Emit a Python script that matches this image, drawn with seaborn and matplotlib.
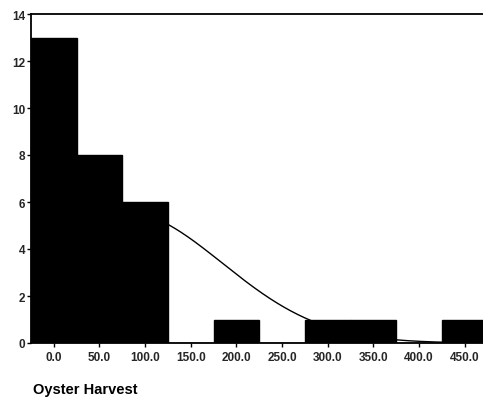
import numpy as np
import pandas as pd
import matplotlib
matplotlib.use("Agg")
import matplotlib.pyplot as plt
import seaborn as sns

# Histogram of oyster harvest: bin centres and counts
bin_centers = [0, 50, 100, 150, 200, 250, 300, 350, 400, 450]
counts = [13, 8, 6, 0, 1, 0, 1, 1, 0, 1]
x_tick_labels = ["0.0", "50.0", "100.0", "150.0", "200.0", "250.0",
                 "300.0", "350.0", "400.0", "450.0"]
y_ticks = [0, 2, 4, 6, 8, 10, 12, 14]
bin_width = 50

sns.set_theme(style="white")
plt.rcParams["font.family"] = ["Liberation Sans", "DejaVu Sans"]

df = pd.DataFrame({"harvest": bin_centers, "count": counts})
lo = bin_centers[0] - bin_width / 2
hi = bin_centers[-1] + bin_width / 2

fig = plt.figure(figsize=(4.83, 4.02), dpi=100)
ax = fig.add_axes([31 / 483, 58 / 402, 452 / 483, 329 / 402])

# Normal curve fitted to the binned data, scaled to counts
vals = np.repeat(bin_centers, counts).astype(float)
mu, sd = vals.mean(), vals.std(ddof=1)
n = len(vals)
xs = np.linspace(lo, hi, 400)
ys = n * bin_width * np.exp(-0.5 * ((xs - mu) / sd) ** 2) / (sd * np.sqrt(2 * np.pi))
sns.lineplot(x=xs, y=ys, ax=ax, color="black", linewidth=1.0, zorder=1)

sns.histplot(data=df, x="harvest", weights="count", binwidth=bin_width,
             binrange=(lo, hi), ax=ax, color="black", edgecolor="black",
             linewidth=1.0, alpha=1.0, zorder=2)

ax.set_xlim(-25, 470)
ax.set_ylim(0, 14)
ax.set_xticks(bin_centers)
ax.set_xticklabels(x_tick_labels, fontsize=8.5, fontweight="bold")
ax.set_yticks(y_ticks)
ax.set_yticklabels([str(v) for v in y_ticks], fontsize=8.5, fontweight="bold")
ax.tick_params(axis="both", direction="out", length=3, width=1, color="black",
               pad=1, bottom=True, left=True)
ax.tick_params(axis="x", pad=3)
ax.set_xlabel("")
ax.set_ylabel("")

for side in ["left", "bottom", "top"]:
    ax.spines[side].set_visible(True)
    ax.spines[side].set_color("black")
    ax.spines[side].set_linewidth(1.3)
ax.spines["right"].set_visible(False)

fig.text(33 / 483, 1 - 390 / 402, "Oyster Harvest", fontsize=10.5,
         fontweight="bold", ha="left", va="center", color="black")

fig.savefig("out.png", dpi=100)
